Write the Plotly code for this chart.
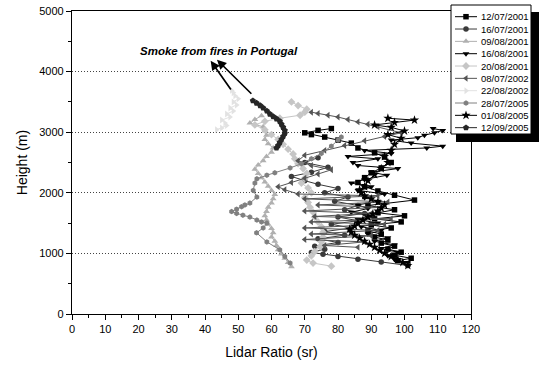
import plotly.graph_objects as go

# ---------------- data ----------------
labels = ["12/07/2001", "16/07/2001", "09/08/2001", "16/08/2001", "20/08/2001",
          "08/07/2002", "22/08/2002", "28/07/2005", "01/08/2005", "12/09/2005"]

lr_120701 = [101, 98, 102, 97, 99, 95, 97, 93, 95, 91, 93, 89, 96, 90, 99, 91, 100, 92, 97, 89,
             103, 97, 92, 88, 86, 88, 90, 93, 96, 94, 91, 86, 84, 80, 76, 72, 70, 74, 78]
h_120701 = [830, 880, 920, 970, 1020, 1070, 1120, 1170, 1220, 1270, 1320, 1370, 1420, 1470, 1520,
            1570, 1620, 1670, 1720, 1790, 1880, 1960, 2030, 2100, 2170, 2250, 2330, 2410, 2500, 2590,
            2660, 2740, 2820, 2870, 2920, 2960, 2990, 3030, 3060]

lr_160701 = [101, 93, 86, 80, 75.5, 72, 76, 73, 80, 74, 82, 76, 84, 78, 86, 80, 88, 82, 86, 79,
             83, 76, 80, 74, 70, 66, 72, 77, 70, 74]
h_160701 = [800, 860, 905, 950, 985, 1015, 1070, 1120, 1180, 1240, 1300, 1360, 1420, 1480, 1540,
            1600, 1660, 1720, 1790, 1860, 1930, 2000, 2070, 2140, 2200, 2270, 2340, 2420, 2500, 2580]

lr_090801 = [66, 65, 64, 63, 62, 61.5, 61, 60, 60.5, 60, 59, 58.5, 58, 58.5, 59, 60, 60.5, 61, 60, 59,
             58, 57, 56, 55, 56, 57.5, 58.5, 60, 60.5, 59, 58, 58.5, 58, 57.5, 53.5, 55, 57]
h_090801 = [780, 850, 920, 990, 1060, 1130, 1200, 1270, 1340, 1410, 1480, 1550, 1620, 1690, 1760,
            1830, 1900, 1970, 2040, 2110, 2180, 2250, 2320, 2390, 2460, 2530, 2600, 2670, 2740, 2810,
            2880, 2950, 3020, 3090, 3150, 3210, 3270]

lr_160801 = [97, 95, 98, 93, 97, 91, 95, 89, 93, 87, 92, 86, 90, 84, 89, 86, 92, 88, 94, 86,
             90, 84, 88, 94.7, 90, 98, 86, 84.5, 92, 83, 96, 88, 106.7, 111.5, 102, 96, 104, 106, 109,
             111.5, 108.6]
h_160801 = [900, 960, 1020, 1080, 1140, 1200, 1260, 1320, 1380, 1440, 1500, 1560, 1620, 1680, 1740,
            1800, 1860, 1920, 1980, 2040, 2100, 2160, 2220, 2290, 2340, 2400, 2450, 2500, 2560, 2600,
            2650, 2700, 2740, 2770, 2820, 2870, 2910, 2950, 2990, 3030, 3060]

lr_200801 = [78, 72.5, 70.6, 72, 73, 74.6, 75, 75.5, 75.5, 75, 74, 73, 72.5, 71.6, 71, 70, 72, 71, 69, 70,
             70.6, 69.5, 68, 67, 66.5, 65, 63.5, 62, 60, 58, 55, 58, 62.5, 68.6, 70, 70.6, 68, 66]
h_200801 = [790, 840, 890, 960, 1030, 1110, 1190, 1270, 1350, 1440, 1520, 1600, 1680, 1760, 1840,
            1920, 2000, 2080, 2160, 2240, 2320, 2400, 2480, 2560, 2640, 2720, 2800, 2880, 2960, 3040,
            3120, 3180, 3230, 3280, 3330, 3380, 3440, 3500]

lr_080702 = [86, 76, 88, 70, 90, 72, 92, 70, 94, 72, 96, 73, 90, 70, 93, 74, 95, 70, 92, 68,
             64, 62, 66, 70, 74, 78, 72, 68, 70, 76, 82, 88, 94, 99, 92, 89, 86, 83, 80, 77, 74, 72]
h_080702 = [1100, 1130, 1190, 1230, 1290, 1320, 1380, 1420, 1480, 1520, 1570, 1610, 1660, 1700, 1760,
            1800, 1850, 1900, 1950, 1980, 2050, 2100, 2170, 2240, 2310, 2380, 2450, 2530, 2620, 2700,
            2780, 2860, 2930, 2990, 3090, 3130, 3170, 3210, 3250, 3280, 3310, 3330]

lr_220802 = [43.5, 45, 46.5, 46, 45, 47.5, 46.5, 48.5, 47.5, 49.5, 48.5, 50, 49, 48.5, 48]
h_220802 = [3040, 3070, 3110, 3150, 3200, 3250, 3300, 3350, 3400, 3450, 3500, 3550, 3600, 3650, 3690]

lr_280705 = [65.6, 64, 62.5, 58.6, 55.5, 57.5, 58.6, 57, 55.6, 53.5, 51.4, 49.5, 48, 49.5, 51,
             52, 53.5, 55.6, 54.5, 55, 55.6, 58.6, 61, 65.6, 69, 72, 75, 78, 80, 81]
h_280705 = [840, 950, 1060, 1190, 1340, 1420, 1500, 1520, 1550, 1600, 1630, 1660, 1690, 1730, 1770,
            1800, 1830, 1930, 2040, 2160, 2230, 2290, 2330, 2410, 2480, 2560, 2650, 2770, 2870, 2920]

lr_010805 = [101, 99.5, 98, 96, 94, 92.5, 91, 89.5, 88, 86.5, 85, 84, 83.5, 85, 86, 87.5, 89, 90.5, 92, 93,
             94, 92, 90, 88, 87, 86.5, 88, 89, 91, 93, 95, 94, 96, 97, 99, 95, 100, 96, 91, 97, 103, 95]
h_010805 = [800, 850, 900, 950, 1000, 1050, 1100, 1150, 1200, 1250, 1300, 1350, 1400, 1450, 1500,
            1550, 1600, 1650, 1700, 1750, 1800, 1850, 1900, 1950, 2000, 2050, 2100, 2200, 2300, 2400,
            2500, 2600, 2700, 2800, 2900, 2960, 3020, 3080, 3120, 3160, 3200, 3230]

lr_120905 = [61.5, 62, 62.5, 63, 63.5, 64, 64, 63.5, 63, 62.5, 61.5, 60.5, 59.5, 58.6, 57.5, 56.6, 55.5, 54.4]
h_120905 = [2740, 2780, 2830, 2880, 2930, 2980, 3030, 3080, 3130, 3180, 3220, 3260, 3300, 3350, 3400,
            3440, 3480, 3520]

series = [(lr_120701, h_120701), (lr_160701, h_160701), (lr_090801, h_090801),
          (lr_160801, h_160801), (lr_200801, h_200801), (lr_080702, h_080702),
          (lr_220802, h_220802), (lr_280705, h_280705), (lr_010805, h_010805),
          (lr_120905, h_120905)]

# annotation (arrow heads and tails, data units)
smoke_text = "Smoke from fires in Portugal"
smoke_pos = (44.2, 4340)
arrow_heads = [(41.7, 4180), (43.6, 4195)]
arrow_tails = [(48.1, 3680), (54.4, 3610)]

# ---------------- style ----------------
colors = ["#000000", "#3a3a3a", "#b0b0b0", "#000000", "#c6c6c6",
          "#555555", "#e2e2e2", "#808080", "#000000", "#262626"]
symbols = ["square", "circle", "triangle-up", "triangle-down", "diamond",
           "triangle-left", "triangle-right", "hexagon", "star", "pentagon"]
msizes = [5.5, 5.5, 6, 6, 6, 6, 6, 5.5, 7, 6.5]
FONT = "Arial, 'Liberation Sans', sans-serif"

W, H = 540, 365
ML, MR, MT, MB = 72, 0, 0, 51
PLOT_RIGHT_PX, PLOT_TOP_PX = 471, 11
pw = W - ML - MR
ph = H - MT - MB

fig = go.Figure()
for (lr, h), c, s, ms in zip(series, colors, symbols, msizes):
    fig.add_trace(go.Scatter(x=lr, y=h, mode="lines+markers",
                             line=dict(color=c, width=1),
                             marker=dict(symbol=s, size=ms, color=c, line=dict(width=0)),
                             showlegend=False, hoverinfo="skip"))

# ---- custom legend drawn on a pixel-unit overlay axis pair (x2/y2) ----
leg_box = dict(x0=451, y0=5, x1=531, y1=134)
leg_shadow = dict(x0=456, y0=12, x1=539, y1=142)
row0, row_step = 16.7, 12.33
sample_x0, sample_x1, sample_xm, text_x = 455, 477, 466, 479

shapes = [
    dict(type="rect", xref="x2", yref="y2", layer="below", fillcolor="black",
         line=dict(width=0), **leg_shadow),
    dict(type="rect", xref="x2", yref="y2", layer="below", fillcolor="white",
         line=dict(color="black", width=1), **leg_box),
]
annotations = []
for i, (lab, c, s, ms) in enumerate(zip(labels, colors, symbols, msizes)):
    yc = row0 + i * row_step
    fig.add_trace(go.Scatter(x=[sample_x0, sample_x1], y=[yc, yc], mode="lines",
                             line=dict(color=c, width=1), xaxis="x2", yaxis="y2",
                             showlegend=False, hoverinfo="skip"))
    fig.add_trace(go.Scatter(x=[sample_xm], y=[yc], mode="markers",
                             marker=dict(symbol=s, size=ms, color=c, line=dict(width=0)),
                             xaxis="x2", yaxis="y2", showlegend=False, hoverinfo="skip"))
    annotations.append(dict(text=lab, x=text_x, y=yc, xref="x2", yref="y2",
                            xanchor="left", yanchor="middle", showarrow=False,
                            font=dict(size=9.5, color="black", family=FONT)))

annotations.append(dict(text="<b><i>%s</i></b>" % smoke_text, x=smoke_pos[0], y=smoke_pos[1],
                        xref="x", yref="y", showarrow=False,
                        font=dict(size=11.5, color="black", family=FONT)))
for (hx, hy), (tx, ty) in zip(arrow_heads, arrow_tails):
    annotations.append(dict(text="", x=hx, y=hy, ax=tx, ay=ty, xref="x", yref="y",
                            axref="x", ayref="y", showarrow=True, arrowhead=2,
                            arrowsize=1.1, arrowwidth=1.7, arrowcolor="black", standoff=0))

axis_common = dict(showline=True, linecolor="black", linewidth=1.2, mirror=True,
                   ticks="outside", ticklen=5, tickwidth=1, tickcolor="black",
                   zeroline=False, tickfont=dict(size=11, color="black", family=FONT),
                   automargin=False)
inner_common = dict(ticks="inside", ticklen=5, tickwidth=1, tickcolor="black",
                    showticklabels=False, showline=False, showgrid=False, zeroline=False,
                    automargin=False, fixedrange=True)

fig.update_layout(
    width=W, height=H,
    margin=dict(l=ML, r=MR, t=MT, b=MB),
    paper_bgcolor="white", plot_bgcolor="rgba(0,0,0,0)",
    font=dict(family=FONT, color="black"),
    hovermode=False,
    xaxis=dict(domain=[0, (PLOT_RIGHT_PX - ML) / pw], range=[0, 120], dtick=10, tick0=0,
               showgrid=False,
               minor=dict(dtick=5, ticks="outside", ticklen=3, tickcolor="black"),
               title=dict(text="Lidar Ratio (sr)", font=dict(size=14, family=FONT), standoff=12),
               **axis_common),
    yaxis=dict(domain=[0, (H - MB - PLOT_TOP_PX) / ph], range=[0, 5000], dtick=1000, tick0=0,
               showgrid=True, gridcolor="#444444", griddash="1px,2px", gridwidth=1,
               minor=dict(dtick=500, ticks="outside", ticklen=3, tickcolor="black"),
               title=dict(text="Height (m)", font=dict(size=14, family=FONT), standoff=8),
               **axis_common),
    xaxis3=dict(overlaying="x", side="top", anchor="y", range=[0, 120], dtick=10, tick0=0,
                **inner_common),
    yaxis3=dict(overlaying="y", side="right", anchor="x", range=[0, 5000], dtick=1000, tick0=0,
                minor=dict(dtick=500, ticks="inside", ticklen=3, tickcolor="black"),
                **inner_common),
    xaxis2=dict(domain=[0, 1], range=[ML, W - MR], anchor="y2", visible=False, fixedrange=True),
    yaxis2=dict(domain=[0, 1], range=[H - MB, MT], anchor="x2", visible=False, fixedrange=True),
    shapes=shapes,
    annotations=annotations,
)

fig.write_html("out.html", config={"displayModeBar": False},
               post_script="document.body.style.margin='0px';")
